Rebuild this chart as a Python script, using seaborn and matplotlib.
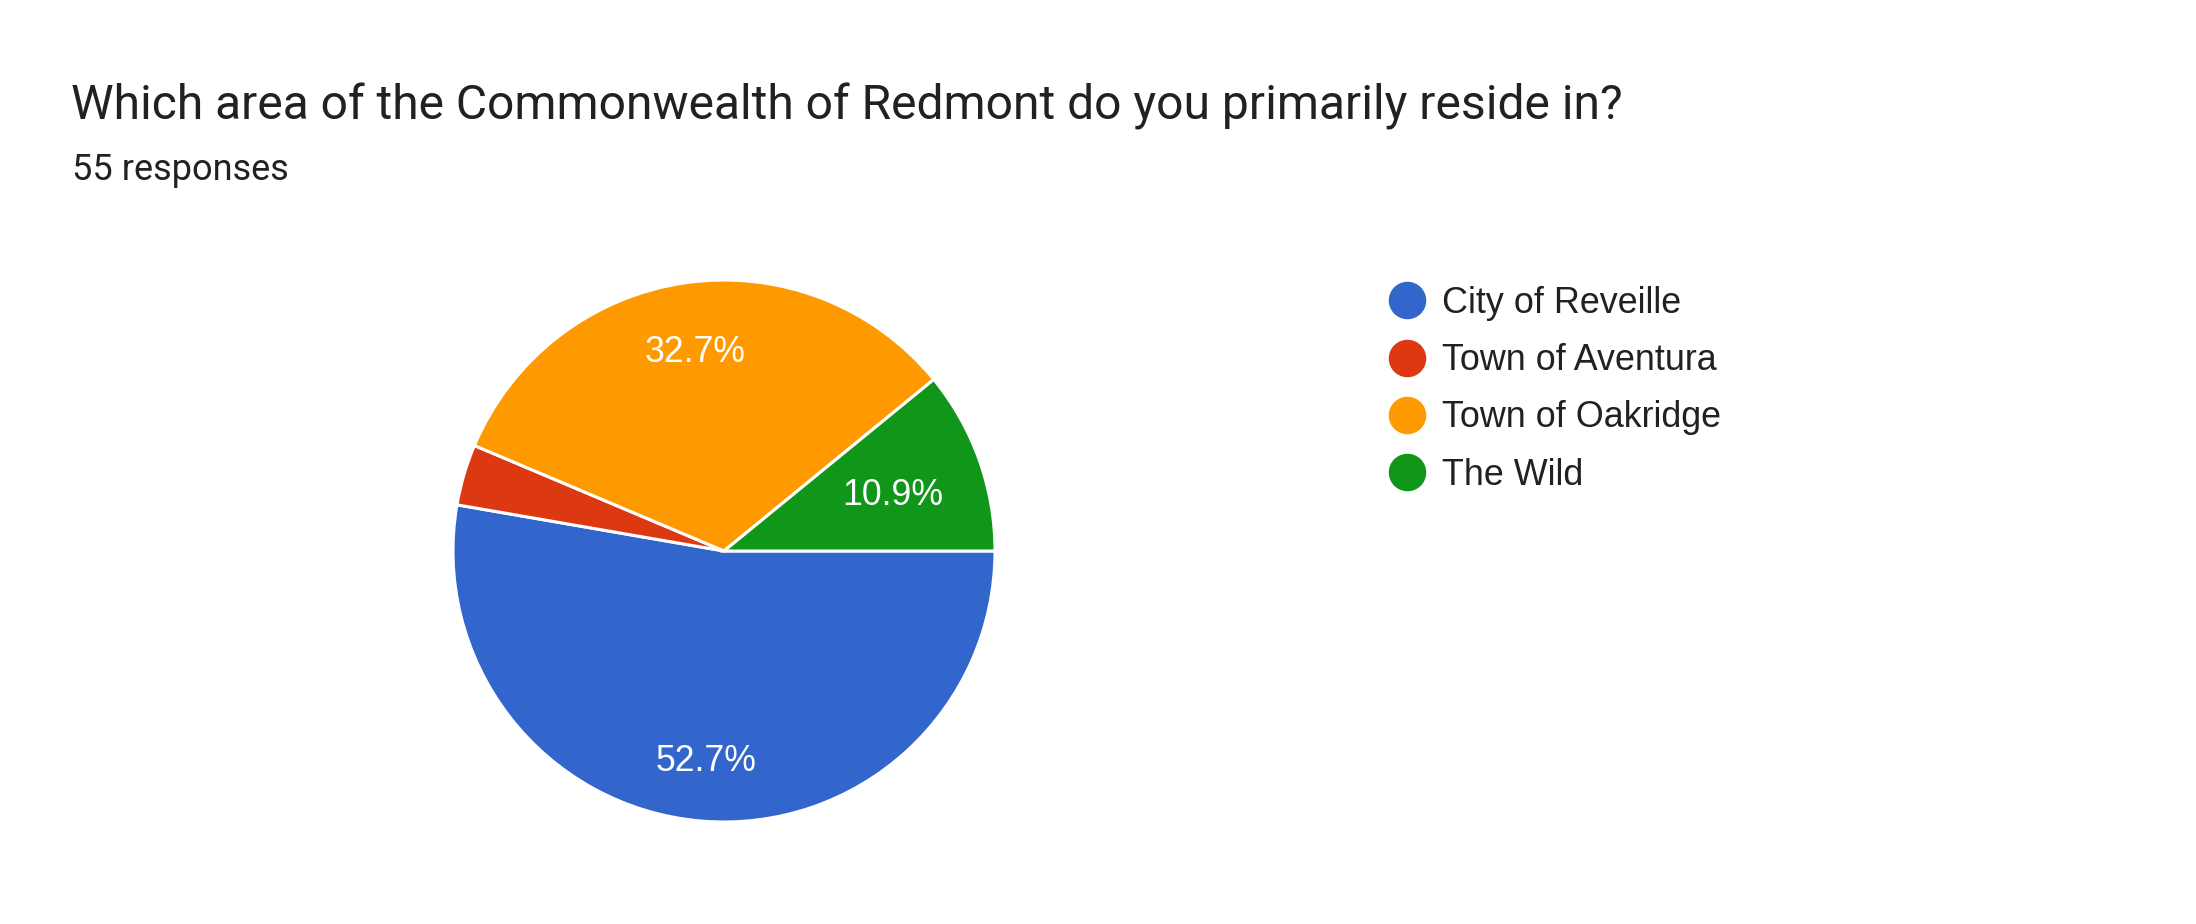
import matplotlib
matplotlib.use("Agg")
import matplotlib.pyplot as plt
from matplotlib.lines import Line2D
import seaborn as sns

# ---- data ----
categories = ["City of Reveille", "Town of Aventura", "Town of Oakridge", "The Wild"]
counts = [29, 2, 18, 6]
colors = ["#3366cc", "#dc3912", "#ff9900", "#109618"]
title = "Which area of the Commonwealth of Redmont do you primarily reside in?"
subtitle = "55 responses"

sns.set_theme(style="white")
plt.rcParams["font.family"] = ["Roboto", "DejaVu Sans"]
TXT = "#212121"
ARIAL = ["Liberation Sans", "DejaVu Sans"]

fig = plt.figure(figsize=(21.96, 9.24), dpi=100)
fig.patch.set_facecolor("white")

ax = fig.add_axes([453 / 2196, 1 - 822 / 924, 542 / 2196, 542 / 924])
ax.set_facecolor("white")

def fmt(p):
    return f"{p:.1f}%" if p >= 5 else ""

wedges, texts, autotexts = ax.pie(
    counts,
    colors=sns.color_palette(colors),
    startangle=0,
    counterclock=False,
    autopct=fmt,
    pctdistance=0.76,
    radius=1.0,
    wedgeprops=dict(edgecolor="white", linewidth=2.2),
    textprops=dict(color="white", fontsize=25.7, family=ARIAL),
)
# Small slice label sits a little closer to the center; all labels sit slightly low
for i, t in enumerate(autotexts):
    x, y = t.get_position()
    k = 0.87 if i == 3 else 1.0
    t.set_position((x * k, y * k - 0.018))

ax.set_xlim(-1.0, 1.0)
ax.set_ylim(-1.0, 1.0)
ax.set_aspect("equal")
ax.axis("off")

fig.text(71 / 2196, 1 - 119 / 924, title, fontsize=34.55, color=TXT, ha="left", va="baseline")
fig.text(72 / 2196, 1 - 180 / 924, subtitle, fontsize=26, color=TXT, ha="left", va="baseline")

handles = [
    Line2D([0], [0], marker="o", linestyle="", markersize=26,
           markerfacecolor=c, markeredgecolor=c)
    for c in colors
]
leg = fig.legend(
    handles, categories,
    loc="upper left",
    bbox_to_anchor=(1389 / 2196, 1 - 286 / 924),
    frameon=False,
    prop=dict(family=ARIAL, size=25.8),
    handlelength=1.0,
    handletextpad=0.48,
    labelspacing=0.62,
    borderpad=0,
    borderaxespad=0,
)
for t in leg.get_texts():
    t.set_color(TXT)

fig.savefig("out.png", dpi=100, facecolor="white")
